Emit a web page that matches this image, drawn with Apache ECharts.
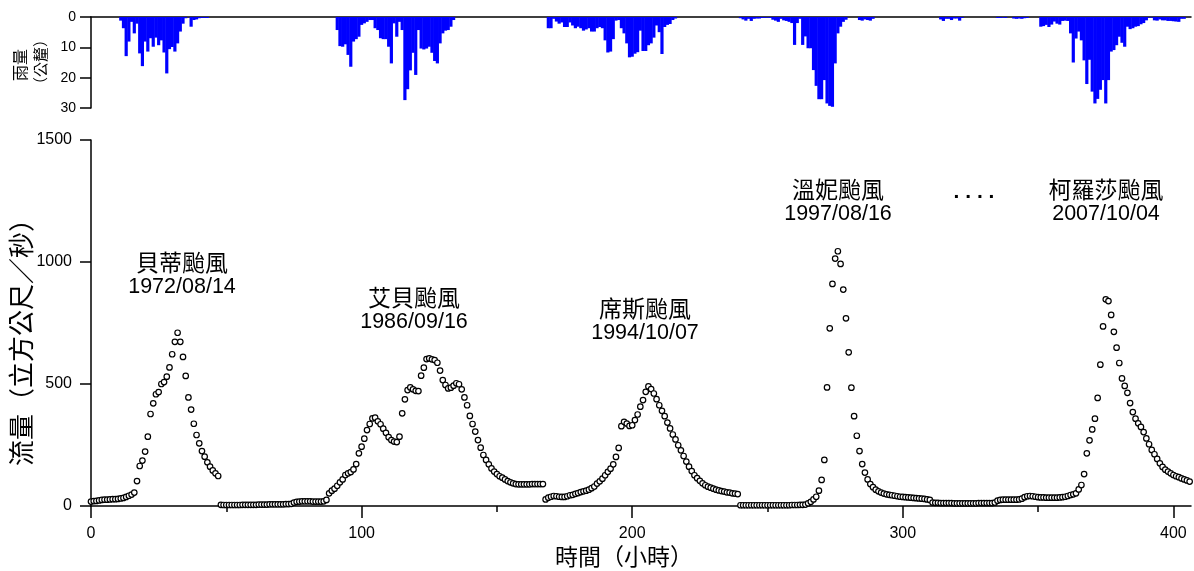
<!DOCTYPE html>
<html><head><meta charset="utf-8">
<script src="https://cdn.jsdelivr.net/npm/echarts@6/dist/echarts.min.js"></script>
<style>html,body{margin:0;padding:0;background:#fff}#c{width:1194px;height:571px}</style>
</head><body><div id="c"></div>
<script>
// ---- data (hourly) ----
const eventStarts = [0, 48, 168, 240, 311];
const typhoonNames = ['貝蒂颱風', '艾貝颱風', '席斯颱風', '溫妮颱風', '柯羅莎颱風'];
const typhoonDates = ['1972/08/14', '1986/09/16', '1994/10/07', '1997/08/16', '2007/10/04'];
const xMajorTicks = [0, 100, 200, 300, 400];
const xMinorTicks = [50, 150, 250, 350];

const flowBetty = [18,20,21,23,25,26,26,27,28,28,29,31,33,37,42,47,55,102,164,186,223,284,377,421,458,467,500,508,530,568,622,673,710,673,611,533,445,395,337,291,257,225,202,179,161,146,134,123];
const flowAbby = [5,4,4,4,4,4,4,4,5,5,5,5,5,5,
  6,6,6,6,7,7,7,7,7,7,8,8,9,
  14,17,18,19,19,19,19,18,18,18,18,19,
  25,52,63,71,83,97,109,127,134,139,150,172,216,243,276,311,336,359,362,347,335,317,300,282,270,264,262,284,380,437,475,486,478,472,471,534,567,602,605,601,598,587,555,516,496,482,485,493,503,499,478,445,413,369,336,305,270,239,209,189,171,154,141,131,122,116,109,102,97,93,90,89,89,89,89,89,90,90,90,90,90];
const flowSis = [27,34,38,41,40,38,37,37,40,44,46,50,53,57,60,63,67,73,80,92,101,112,126,140,153,171,201,238,327,345,338,328,331,352,375,407,434,468,490,479,461,438,413,390,368,342,318,293,273,249,228,205,182,161,143,126,114,103,93,85,79,75,71,67,64,61,59,56,55,52,51,49];
const flowWinnie = [3,3,3,3,3,3,3,3,3,3,3,3,3,3,3,3,3,3,3,4,4,4,5,5,
  6,11,17,27,38,63,107,189,486,728,910,1014,1044,992,887,769,630,485,368,288,225,172,137,109,90,77,67,60,55,51,48,46,44,42,40,38,37,36,35,34,33,32,31,30,29,27,25];
const flowKrosa = [14,13,13,12,12,12,12,12,11,11,11,11,11,11,11,11,11,12,12,12,12,12,12,14,
  22,25,26,26,26,26,26,26,27,30,36,40,41,40,38,36,35,35,34,34,34,34,34,35,36,38,41,45,48,
  52,68,86,131,216,269,314,358,443,579,736,847,840,783,714,649,586,523,492,464,422,385,358,339,324,303,277,253,230,212,193,175,160,149,141,134,127,122,118,113,109,105,100];

const rainBetty = [0,0,0,0,0,0,0,0,0,0,0,
  1.2,3.7,12.9,8.1,1.6,5.4,2.2,12,16.2,8.1,11.4,7,9.8,6.8,9.3,7.7,11.7,18.6,10.6,9.9,11.4,8.7,4.8,2.2,0.4,0,3.2,1,0.8,0.4,0.3,0.3,0.3,
  0,0,0,0];
const rainAbby = [0,0,0,0,0,0,0,0,0,0,0,0,0,0,0,0,0,0,0,0,0,0,0,0,0,0,0,0,0,0,0,0,0,0,0,0,0,0,0,0,0,0,0,
  4.3,9.6,9.8,9,12.5,16.4,8.1,7.3,6.5,2.6,2.1,1.6,1,1,3.7,4.3,7,7.3,7.3,9.8,15.3,2.1,6.5,1.6,4.3,27.4,23.8,17.6,11.8,19.1,4.3,10.4,10.7,10.4,9.8,11.8,14.5,15.3,8.7,5.4,4.5,4.3,3.2,1,
  0,0,0,0,0,0,0,0,0,0,0,0,0,0,0,0,0,0,0,0,0,0,0,0,0,0,0,0,0,0,0,0,0];
const rainSis = [0,
  3.7,3.7,0.6,1.5,2.2,1.8,3.3,3.3,1.8,2.8,3.7,3.2,3.7,4.5,4.1,3.7,4.8,4.8,3.7,3.3,3.7,7.7,11.7,11.4,7.3,1.2,1,3.7,5.4,8.7,13.3,13.1,12.1,11.6,4.5,11.2,11.2,9.3,8.7,6.8,2.8,5,12.2,3.3,2.6,2.3,1,0.5,
  0,0,0,0,0,0,0,0,0,0,0,0,0,0,0,0,0,0,0,0,0,0,0];
const rainWinnie = [0.4,0.8,1.2,0.6,1.3,0.6,0.5,0.5,0.3,0.3,0.2,0.3,0.9,1.2,1.6,0.6,1.1,1.3,1.6,2,9.2,2,0.6,9.2,6.4,10.3,10.3,17.5,22.7,27.1,27.1,20.8,28.5,29.3,29.6,15.3,5.4,3.2,1.6,0.9,
  0,0,0,0,1,1.2,0.8,1,1.2,0.6,
  0,0,0,0,0,0,0,0,0,0,0,0,0,0,0,0,0,0,0,0,0];
const rainKrosa = [0,0,0,0.8,1.3,0.6,0.6,1,0.5,0.5,1.2,0.3,
  0,0,0,0,0,0,0,0,0,0,0,0,
  0.3,0.3,0.2,0.3,0,0,0.5,0.6,0.5,0.6,0.4,0.3,0,0,0,0,
  3.2,3,2.6,3.3,2.5,1.5,2.2,2.5,1.3,1.2,1.3,
  5.4,15,7.1,4.8,7.7,14.3,22.1,14.1,24.6,28.5,27,24,20.8,28.5,20.8,11.4,10.9,9.3,6.5,8.5,9.8,3.2,4,3.7,3.2,3,2.4,2,1.1,0.2,0.2,1.1,1.2,0.8,1.1,1.1,1.3,1.3,1.4,1.5,1.6,0.6,0.6,
  0,0];

// ---- build ----
function build(starts, arrs) {
  const out = [];
  arrs.forEach((a, i) => a.forEach((v, j) => out.push([starts[i] + j, v])));
  return out;
}
const flowData = build(eventStarts, [flowBetty, flowAbby, flowSis, flowWinnie, flowKrosa]);
const rainData = build(eventStarts, [rainBetty, rainAbby, rainSis, rainWinnie, rainKrosa]).filter(d => d[1] > 0);

const XMAX = 406.5;
const AX = { color: '#000', width: 1.5 };
const NUMFONT = 'Liberation Sans, Arial, sans-serif';
const CJK = '"Noto Sans CJK TC", sans-serif';
const plain = v => String(v);

const labelPos = [[182, 262], [414, 297], [645, 308], [838, 189], [1106, 189]];
const graphics = [];
function txt(x, y, text, font, rot) {
  const g = { type: 'text', x: x, y: y, style: { text: text, font: font, fill: '#000', align: 'center', verticalAlign: 'middle', textAlign: 'center', textVerticalAlign: 'middle' } };
  if (rot) g.rotation = rot;
  graphics.push(g);
}
typhoonNames.forEach((n, i) => {
  const [x, y] = labelPos[i];
  txt(x, y, n, '23px ' + CJK);
  txt(x, y + 25, typhoonDates[i], '21.5px ' + NUMFONT);
});
txt(974, 192, '. . . .', 'bold 21px ' + NUMFONT);
txt(624, 556, '時間（小時）', '23px ' + CJK);
txt(21, 336, '流量（立方公尺／秒）', '26px ' + CJK, Math.PI / 2);
txt(20, 65, '雨量', '16px ' + CJK, Math.PI / 2);
txt(40, 62, '（公釐）', '15px ' + CJK, Math.PI / 2);

const chart = echarts.init(document.getElementById('c'));
chart.setOption({
  animation: false,
  backgroundColor: '#fff',
  grid: [
    { left: 91, top: 17, width: 1100, height: 91 },
    { left: 91, top: 140, width: 1100, height: 366 }
  ],
  xAxis: [
    { gridIndex: 0, type: 'value', min: 0, max: XMAX, position: 'top',
      axisLine: { show: true, onZero: false, lineStyle: AX }, axisTick: { show: false }, axisLabel: { show: false }, splitLine: { show: false } },
    { gridIndex: 1, type: 'value', min: 0, max: XMAX, position: 'bottom',
      axisLine: { show: true, onZero: false, lineStyle: AX },
      axisTick: { show: true, length: 12, customValues: xMajorTicks, lineStyle: AX },
      axisLabel: { customValues: xMajorTicks, margin: 20, fontSize: 16, color: '#000', fontFamily: NUMFONT, formatter: plain },
      splitLine: { show: false } },
    { gridIndex: 1, type: 'value', min: 0, max: XMAX, position: 'bottom',
      axisLine: { show: false, onZero: false },
      axisTick: { show: true, length: 6, customValues: xMinorTicks, lineStyle: AX },
      axisLabel: { show: false }, splitLine: { show: false } }
  ],
  yAxis: [
    { gridIndex: 0, type: 'value', inverse: true, min: 0, max: 30, interval: 10,
      axisLine: { show: true, onZero: false, lineStyle: AX }, axisTick: { show: true, length: 11, lineStyle: AX },
      axisLabel: { fontSize: 14, margin: 15, color: '#000', fontFamily: NUMFONT, formatter: plain }, splitLine: { show: false } },
    { gridIndex: 1, type: 'value', min: 0, max: 1500, interval: 500,
      axisLine: { show: true, onZero: false, lineStyle: AX }, axisTick: { show: true, length: 11, lineStyle: AX },
      axisLabel: { fontSize: 16, margin: 19, color: '#000', fontFamily: NUMFONT, formatter: plain }, splitLine: { show: false } }
  ],
  series: [
    { type: 'bar', xAxisIndex: 0, yAxisIndex: 0, data: rainData, barWidth: 3.2,
      itemStyle: { color: '#0000ff' }, silent: true },
    { type: 'scatter', xAxisIndex: 1, yAxisIndex: 1, data: flowData, symbol: 'circle', symbolSize: 5.5,
      itemStyle: { color: '#fff', borderColor: '#000', borderWidth: 1.2, opacity: 1 }, clip: false, silent: true }
  ],
  graphic: graphics
});
</script></body></html>
